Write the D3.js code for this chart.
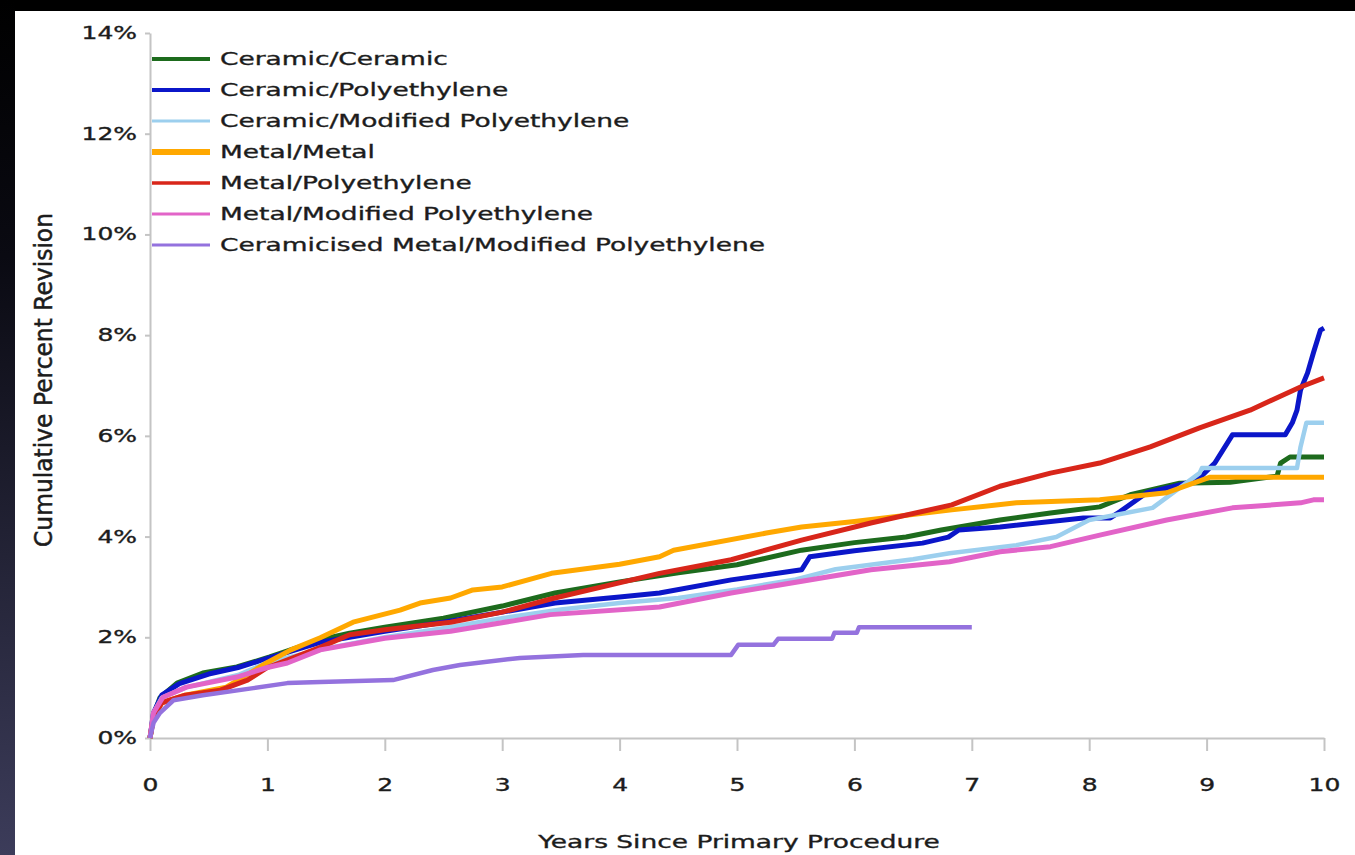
<!DOCTYPE html>
<html lang="en">
  <head>
    <meta charset="UTF-8" />
    <title>Cumulative Percent Revision</title>
    <style>
      html,
      body {
        margin: 0;
        padding: 0;
        background: #000;
      }
      svg {
        display: block;
      }
      text {
        font-family: 'DejaVu Sans', sans-serif;
        fill: #1c1c1c;
        stroke: #1c1c1c;
        stroke-width: 0.35px;
      }
    </style>
  </head>
  <body>
    <div id="main"></div>
    <script src="https://cdn.jsdelivr.net/npm/d3@7"></script>

    <script>
      // [years, cumulative percent revision]
      const ceramicCeramic = [
        [0, 0], [0.03, 0.45], [0.085, 0.8], [0.23, 1.09], [0.45, 1.29], [0.74, 1.41],
        [1.02, 1.61], [1.45, 1.95], [1.7, 2.08], [2.0, 2.2], [2.5, 2.38], [3.0, 2.62],
        [3.45, 2.88], [4.0, 3.1], [4.5, 3.28], [5.0, 3.44], [5.55, 3.73], [6.0, 3.88],
        [6.44, 3.99], [6.74, 4.13], [7.24, 4.33], [7.67, 4.47], [8.09, 4.59], [8.35, 4.83],
        [8.77, 5.06], [9.2, 5.08], [9.6, 5.2], [9.63, 5.46], [9.71, 5.58], [10, 5.58]
      ]
      const ceramicPoly = [
        [0, 0], [0.03, 0.5], [0.1, 0.85], [0.25, 1.08], [0.5, 1.27], [0.75, 1.4],
        [1.0, 1.58], [1.45, 1.9], [2.0, 2.12], [2.5, 2.3], [3.0, 2.5], [3.45, 2.68],
        [4.0, 2.8], [4.34, 2.88], [4.95, 3.14], [5.55, 3.34], [5.62, 3.6], [6.0, 3.72],
        [6.58, 3.87], [6.8, 3.99], [6.89, 4.13], [7.24, 4.19], [7.95, 4.37], [8.18, 4.37],
        [8.26, 4.49], [8.49, 4.87], [8.71, 4.99], [8.92, 5.12], [9.07, 5.46], [9.22, 6.02],
        [9.67, 6.02], [9.73, 6.26], [9.77, 6.51], [9.8, 6.91], [9.86, 7.25], [9.91, 7.65],
        [9.97, 8.1], [10, 8.14]
      ]
      const ceramicModPoly = [
        [0, 0], [0.03, 0.5], [0.1, 0.8], [0.3, 1.0], [0.75, 1.25], [1.0, 1.5],
        [1.5, 1.78], [2.0, 2.0], [2.5, 2.18], [3.0, 2.38], [3.5, 2.55], [4.0, 2.68],
        [4.5, 2.78], [5.0, 2.95], [5.5, 3.15], [5.84, 3.35], [6.5, 3.55], [6.81, 3.67],
        [7.38, 3.83], [7.72, 3.99], [8.0, 4.33], [8.54, 4.57], [8.94, 5.26], [8.96, 5.36],
        [9.77, 5.36], [9.8, 5.78], [9.85, 6.26], [10, 6.26]
      ]
      const metalMetal = [
        [0, 0], [0.03, 0.4], [0.1, 0.7], [0.3, 0.85], [0.65, 1.01], [1.0, 1.5],
        [1.2, 1.75], [1.45, 1.99], [1.73, 2.3], [2.13, 2.54], [2.3, 2.68], [2.56, 2.78],
        [2.75, 2.94], [3.0, 3.0], [3.42, 3.27], [4.0, 3.45], [4.34, 3.6], [4.46, 3.73],
        [5.25, 4.07], [5.55, 4.19], [6.0, 4.3], [6.83, 4.53], [7.38, 4.67], [8.09, 4.73],
        [8.66, 4.87], [9.03, 5.18], [10, 5.18]
      ]
      const metalPoly = [
        [0, 0], [0.03, 0.4], [0.1, 0.7], [0.3, 0.85], [0.6, 0.95], [0.83, 1.15],
        [1.0, 1.4], [1.45, 1.8], [1.7, 2.05], [2.0, 2.15], [2.56, 2.3], [3.0, 2.5],
        [3.43, 2.77], [4.34, 3.27], [4.95, 3.54], [5.55, 3.93], [6.14, 4.27], [6.83, 4.63],
        [7.24, 5.0], [7.67, 5.26], [8.09, 5.46], [8.52, 5.78], [8.94, 6.16], [9.37, 6.51],
        [9.8, 6.97], [10, 7.15]
      ]
      const metalModPoly = [
        [0, 0], [0.03, 0.5], [0.11, 0.81], [0.31, 1.01], [0.74, 1.21], [1.0, 1.4],
        [1.17, 1.49], [1.45, 1.75], [2.0, 1.98], [2.56, 2.12], [3.41, 2.45], [4.34, 2.6],
        [4.95, 2.88], [6.14, 3.34], [6.81, 3.5], [7.24, 3.7], [7.67, 3.8], [8.09, 4.03],
        [8.66, 4.33], [9.22, 4.57], [9.8, 4.67], [9.91, 4.73], [10, 4.73]
      ]
      const ceramicisedModPoly = [
        [0, 0], [0.03, 0.3], [0.085, 0.5], [0.2, 0.75], [0.45, 0.85], [0.88, 0.99],
        [1.17, 1.09], [1.45, 1.11], [2.07, 1.15], [2.41, 1.35], [2.64, 1.45], [3.15, 1.59],
        [3.69, 1.65], [4.95, 1.65], [5.01, 1.85], [5.31, 1.85], [5.35, 1.97], [5.81, 1.97],
        [5.83, 2.09], [6.02, 2.09], [6.04, 2.2], [7.0, 2.2]
      ]

      const seriesNames = [
        'Ceramic/Ceramic',
        'Ceramic/Polyethylene',
        'Ceramic/Modified Polyethylene',
        'Metal/Metal',
        'Metal/Polyethylene',
        'Metal/Modified Polyethylene',
        'Ceramicised Metal/Modified Polyethylene'
      ]
      const seriesData = [
        ceramicCeramic, ceramicPoly, ceramicModPoly, metalMetal,
        metalPoly, metalModPoly, ceramicisedModPoly
      ]
      const xTicks = [0, 1, 2, 3, 4, 5, 6, 7, 8, 9, 10]
      const yTicks = [0, 2, 4, 6, 8, 10, 12, 14]

      const color = ['#1d6b1d', '#0b16c9', '#9ccfee', '#ffa800', '#d8261a', '#e264c8', '#9472de']
      const lineW = [5, 5, 4.5, 5, 5, 5, 4.5]
      const legendW = [4, 4, 3, 6, 3.5, 3, 3]
      const [width, height] = [1355, 855]
      const sx = 1.47 // the picture is stretched sideways

      const svg = d3
        .select('#main')
        .append('svg')
        .attr('width', width)
        .attr('height', height)
        .attr('viewBox', `0 0 ${width} ${height}`)

      // backdrop: dark frame, white page
      const grad = svg
        .append('defs')
        .append('linearGradient')
        .attr('id', 'edge')
        .attr('x1', 0).attr('y1', 0).attr('x2', 0).attr('y2', 1)
      grad.append('stop').attr('offset', '0%').attr('stop-color', '#000')
      grad.append('stop').attr('offset', '30%').attr('stop-color', '#0a0a12')
      grad.append('stop').attr('offset', '100%').attr('stop-color', '#3c3c5a')

      svg.append('rect').attr('width', width).attr('height', height).attr('fill', '#000')
      svg.append('rect').attr('width', 15).attr('height', height).attr('fill', 'url(#edge)')
      svg
        .append('rect')
        .attr('x', 15)
        .attr('y', 11)
        .attr('width', width - 15)
        .attr('height', height - 11)
        .attr('fill', '#fff')

      const xScale = d3.scaleLinear().domain([0, 10]).range([150, 1324])
      const yScale = d3.scaleLinear().domain([0, 14]).range([738, 33])

      const stretch = sel =>
        sel.each(function () {
          const t = d3.select(this)
          const x = +t.attr('x') || 0
          t.attr('x', x / sx).attr('transform', `scale(${sx},1)`)
        })

      // axes
      const xAxis = svg
        .append('g')
        .attr('transform', `translate(0, ${yScale(0)})`)
        .call(d3.axisBottom(xScale).tickValues(xTicks).tickSize(13).tickSizeOuter(0))
      xAxis
        .selectAll('text')
        .attr('y', 47)
        .attr('dy', '0.35em')
        .style('font-size', '17px')
        .call(stretch)

      const yAxis = svg
        .append('g')
        .attr('transform', `translate(${xScale(0)}, 0)`)
        .call(
          d3
            .axisLeft(yScale)
            .tickValues(yTicks)
            .tickFormat(d => d + '%')
            .tickSize(5)
            .tickPadding(8)
            .tickSizeOuter(0)
        )
      yAxis
        .selectAll('text')
        .style('font-size', '17px')
        .call(stretch)

      svg.selectAll('.domain, .tick line').attr('stroke', '#c4c4c4').attr('stroke-width', 2)

      // axis titles
      svg
        .append('text')
        .attr('x', 739)
        .attr('y', 842)
        .attr('text-anchor', 'middle')
        .attr('dominant-baseline', 'central')
        .style('font-size', '18px')
        .text('Years Since Primary Procedure')
        .call(stretch)

      svg
        .append('text')
        .attr('transform', 'translate(43, 380) rotate(-90) scale(1, 1.4)')
        .attr('text-anchor', 'middle')
        .attr('dominant-baseline', 'central')
        .attr('textLength', 334)
        .attr('lengthAdjust', 'spacingAndGlyphs')
        .style('font-size', '18px')
        .text('Cumulative Percent Revision')

      // curves
      const line = d3
        .line()
        .x(d => xScale(d[0]))
        .y(d => yScale(d[1]))

      svg
        .append('g')
        .selectAll('path')
        .data(seriesData)
        .join('path')
        .attr('d', line)
        .attr('fill', 'none')
        .attr('stroke', (_, i) => color[i])
        .attr('stroke-width', (_, i) => lineW[i])
        .attr('stroke-linejoin', 'round')

      // legend
      const legend = svg
        .append('g')
        .selectAll('g')
        .data(seriesNames)
        .join('g')
        .attr('transform', (_, i) => `translate(0, ${59 + i * 31})`)

      legend
        .append('line')
        .attr('x1', 152)
        .attr('x2', 210)
        .attr('stroke', (_, i) => color[i])
        .attr('stroke-width', (_, i) => legendW[i])

      legend
        .append('text')
        .attr('x', 220)
        .attr('dominant-baseline', 'central')
        .style('font-size', '18px')
        .text(d => d)
        .call(stretch)
    </script>
  </body>
</html>
